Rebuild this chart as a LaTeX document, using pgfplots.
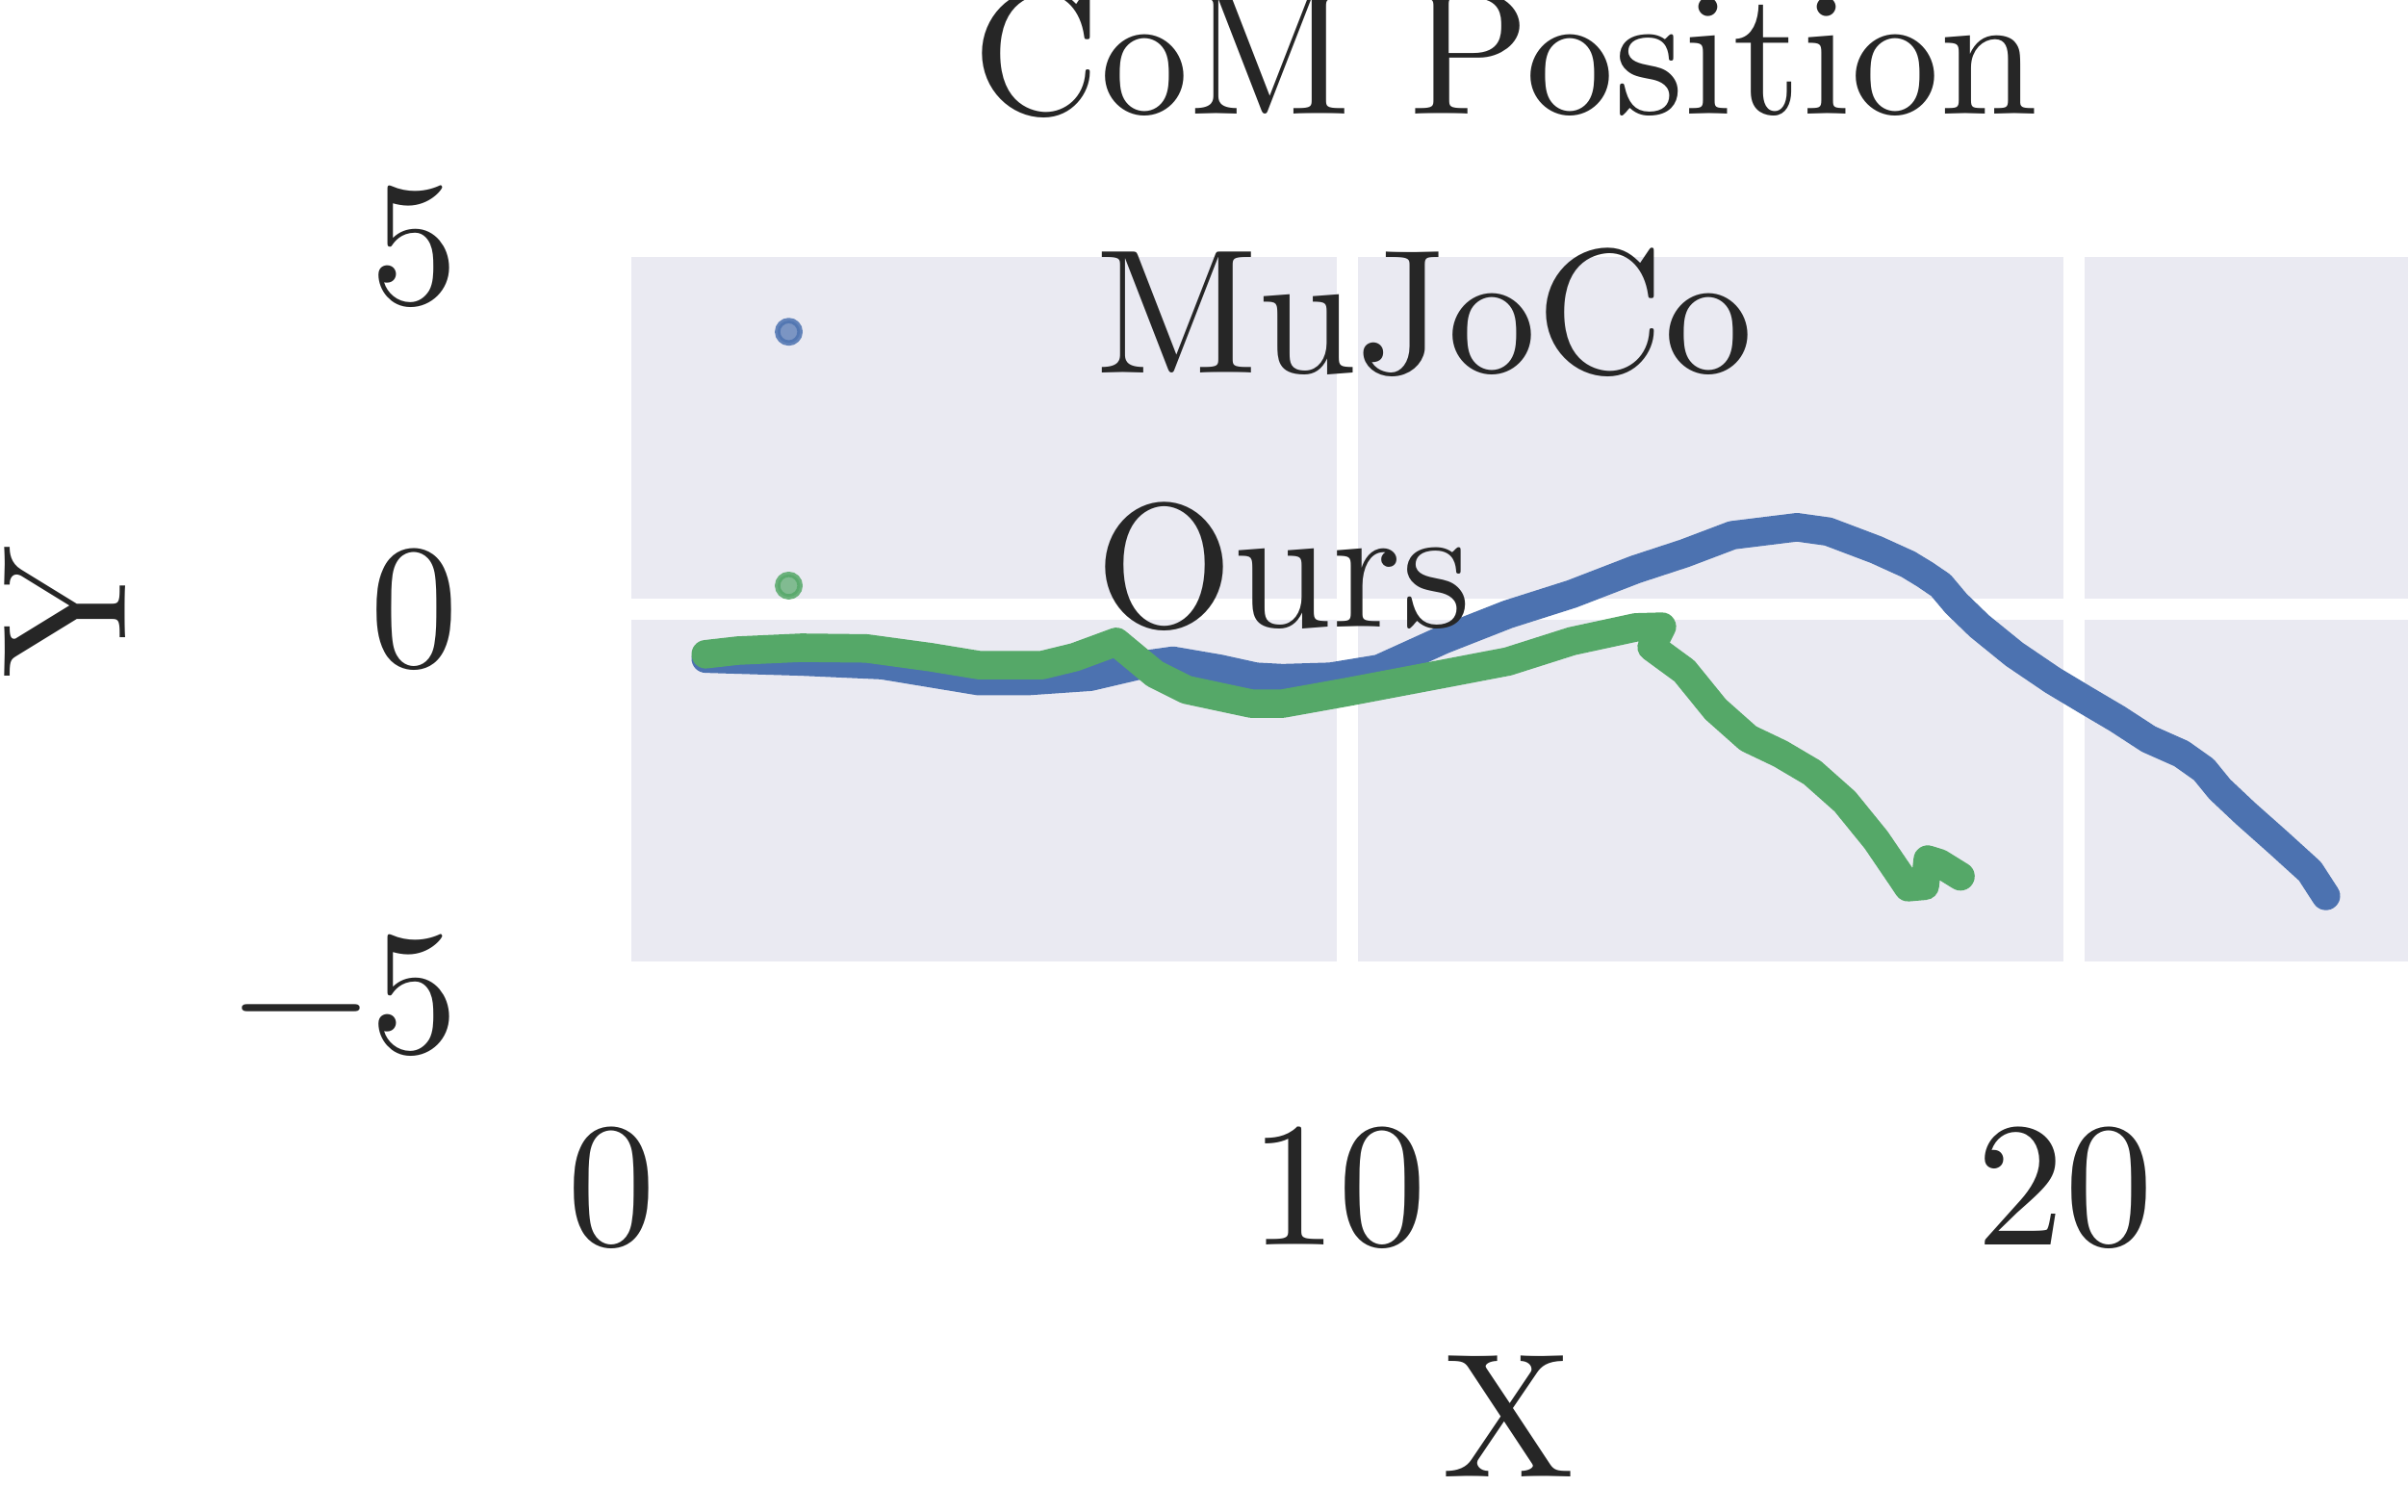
\documentclass[border=0pt]{standalone}
\usepackage{fontspec}
\setmainfont{lmroman10-regular}[Extension=.otf]
\usepackage{pgfplots}
\pgfplotsset{compat=1.18}

\definecolor{sbblue}{HTML}{4C72B0}
\definecolor{sbgreen}{HTML}{55A868}
\definecolor{sbbg}{HTML}{EAEAF2}
\definecolor{sbtext}{HTML}{262626}

\begin{document}
\fontsize{23}{27}\selectfont
\begin{tikzpicture}[every node/.append style={text=sbtext}]
\begin{axis}[
  scale only axis,
  width=232.125pt, height=94.25pt,
  xmin=0, xmax=24.6, ymin=-5, ymax=5,
  xtick={0,10,20}, ytick={-5,0,5},
  xticklabels={0,10,20},
  yticklabels={\raisebox{-3pt}[\height][\depth]{−5},0,5},
  grid=major,
  major grid style={white, line width=2.75pt},
  axis background/.style={fill=sbbg},
  axis line style={draw=none},
  tick style={draw=none},
  xticklabel style={anchor=north, inner sep=0pt, yshift=-19.9pt, xshift=-1.2pt},
  yticklabel style={anchor=east, inner sep=0pt, xshift=-20.9pt},
  title={CoM Position},
  every axis title/.style={at={(axis description cs:0.4949,1.183)}, anchor=base, inner sep=0pt},
  xlabel={X},
  xlabel style={at={(axis description cs:0.4965,-0.696)}, anchor=base, inner sep=0pt},
  ylabel={Y},
  ylabel style={at={(axis description cs:-0.2773,0.497)}, anchor=base, inner sep=0pt},
  legend cell align=left,
  legend image code/.code={
    \filldraw[line width=0.7pt, fill opacity=0.7, draw opacity=0.85] (0pt,-1pt) circle (1.46pt);
  },
  legend style={draw=none, fill=none, inner sep=0pt, outer sep=0pt,
    at={(axis description cs:0.0862,0.9973)}, anchor=north west,
    row sep=13.3pt, nodes={inner sep=0pt},
    /tikz/every odd column/.append style={column sep=38.1pt}},
  every axis plot post/.append style={line width=3.7pt, line cap=round, line join=round},
]
\coordinate (sw) at (rel axis cs:0,0);
\coordinate (ne) at (rel axis cs:1,1);

% MuJoCo trajectory
\addplot[sbblue] coordinates {
(1.17,-0.68) (2.49,-0.72) (3.60,-0.77) (4.93,-0.99) (5.59,-0.99) (6.46,-0.93)
(7.10,-0.78) (7.60,-0.71) (8.24,-0.82) (8.74,-0.93) (9.11,-0.95) (9.77,-0.93)
(10.44,-0.82) (11.32,-0.42) (12.21,-0.07) (13.09,0.21) (13.97,0.55) (14.64,0.77)
(15.30,1.02) (16.19,1.13) (16.62,1.07) (17.28,0.82) (17.72,0.62) (17.95,0.48)
(18.17,0.33) (18.38,0.08) (18.70,-0.23) (19.18,-0.62) (19.71,-0.98) (20.16,-1.25)
(20.60,-1.51) (21.03,-1.79) (21.48,-1.99) (21.79,-2.21) (22.01,-2.48) (22.36,-2.81)
(22.81,-3.21) (23.25,-3.61) (23.47,-3.95)
};
\addlegendentry{MuJoCo}

% our trajectory
\addplot[sbgreen] coordinates {
(1.17,-0.62) (1.61,-0.57) (2.49,-0.53) (3.38,-0.54) (4.26,-0.66) (4.93,-0.77)
(5.80,-0.77) (6.25,-0.66) (6.82,-0.45) (7.35,-0.89) (7.79,-1.11) (8.68,-1.30)
(9.11,-1.30) (10.00,-1.14) (11.32,-0.89) (12.21,-0.72) (13.09,-0.44) (13.97,-0.25)
(14.33,-0.24) (14.19,-0.52) (14.64,-0.85) (15.07,-1.38) (15.52,-1.78) (15.96,-1.99)
(16.40,-2.25) (16.85,-2.65) (17.28,-3.18) (17.64,-3.71) (17.72,-3.83) (17.95,-3.81)
(17.99,-3.45) (18.15,-3.50) (18.44,-3.68)
};
\addlegendentry{Ours}
\end{axis}
\pgfresetboundingbox
\path[use as bounding box] ([shift={(-80.625pt,-70pt)}]sw) rectangle ([shift={(0pt,32pt)}]ne);
\end{tikzpicture}
\end{document}
